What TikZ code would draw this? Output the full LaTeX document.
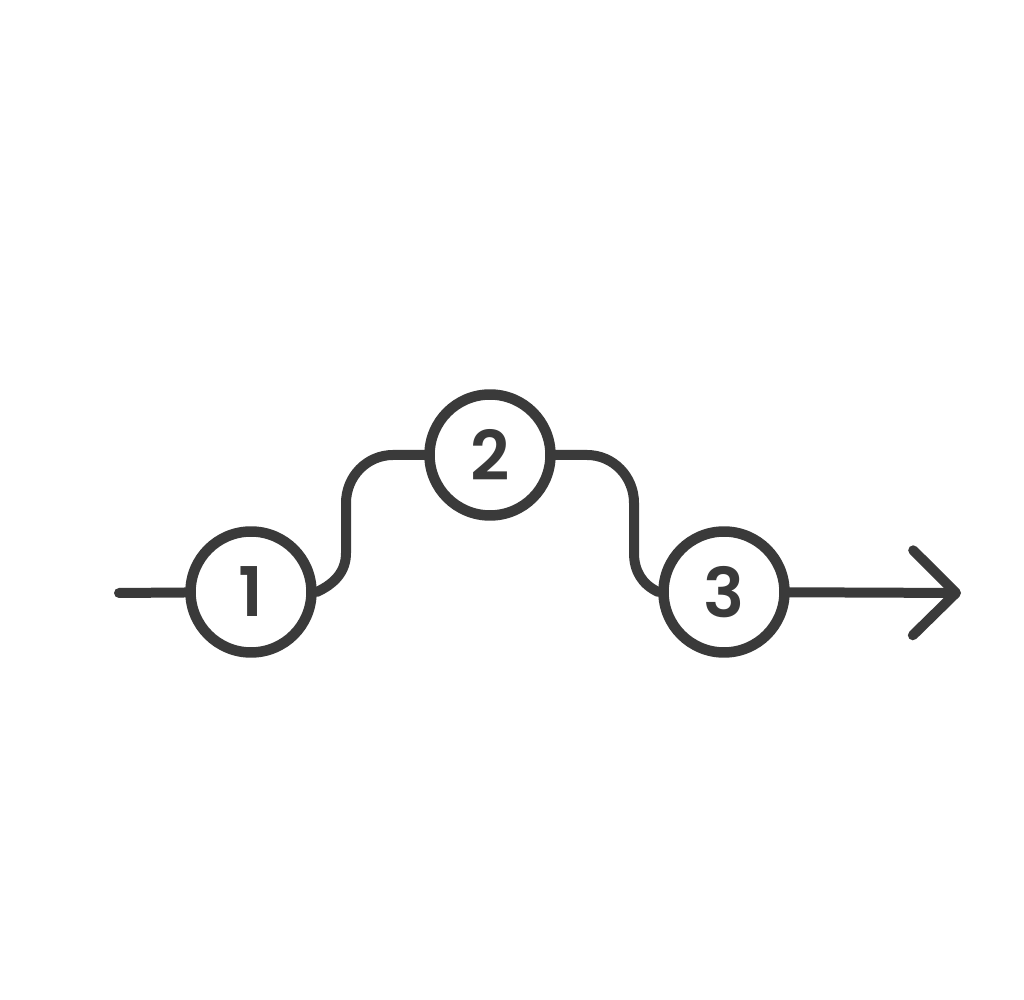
\documentclass[tikz,border=0pt]{standalone}
\usepackage{fontspec}
\setmainfont{Poppins}[BoldFont=* SemiBold]
\usetikzlibrary{arrows.meta}
\definecolor{ink}{RGB}{58,58,58}

\begin{document}
\begin{tikzpicture}[x=0.02cm,y=0.02cm,
            stop/.style={circle,draw=ink,line width=0.21cm,minimum size=2.42cm,
                inner sep=0pt,text=ink,font=\fontsize{39}{39}\selectfont\bfseries},
            link/.style={draw=ink,line width=0.2cm,line cap=round,line join=round}]
            \useasboundingbox (0,0) rectangle (1024,1000);
            \node[stop] (n1) at (251,408) {1};
            \node[stop] (n2) at (490,545) {2};
            \node[stop] (n3) at (724,408) {3};
            \coordinate (start) at (119,407);
            \coordinate (tip) at (961,407);

            \draw[link] (start) -- (n1);
            \draw[link] (n1.east) to[out=25,in=-90] (346,447) -- (346,497)
                to[out=90,in=180] (393,545) -- (n2.west);
            \draw[link] (n2.east) -- (587,545) to[out=0,in=90] (634,497)
                -- (634,447) to[out=-90,in=155] (n3.west);
            \draw[link,-{Straight Barb[length=0.86cm,width=1.7cm,round]}] (n3) -- (tip);
        \end{tikzpicture}
\end{document}
